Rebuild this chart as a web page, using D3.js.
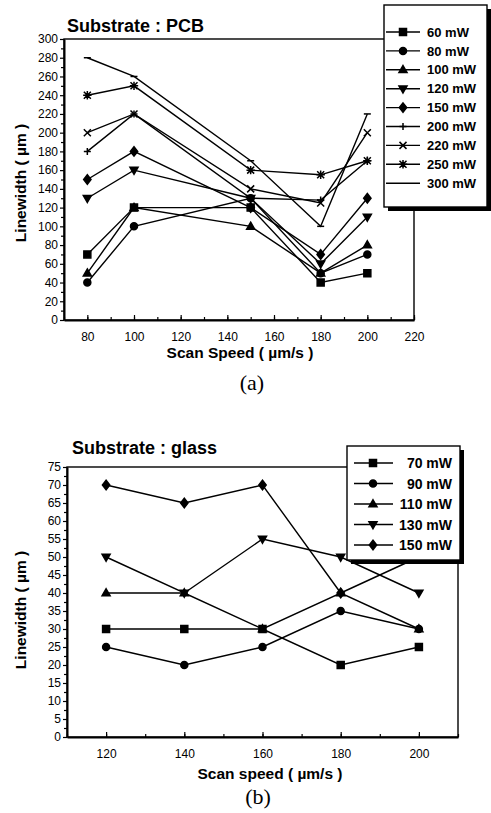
<!DOCTYPE html>
<meta charset="utf-8">
<style>
body { margin: 0; background: #fff; }
text { font-family: 'Liberation Sans', Arial, sans-serif; fill: #000; }
.tick text { font-size: 12px; }
.title { font-size: 18px; font-weight: bold; }
.axis-title { font-size: 15.5px; font-weight: bold; }
.panel { font-family: 'Liberation Serif', serif; font-size: 22px; }
.legend text { font-weight: bold; }
</style>
<svg id="chart" width="491" height="813"></svg>
<script src="https://cdnjs.cloudflare.com/ajax/libs/d3/7.8.5/d3.min.js"></script>
<script>

// (a) substrate PCB
var pcbSpeeds = [80, 100, 150, 180, 200];
var pcbPowers = ["60 mW", "80 mW", "100 mW", "120 mW", "150 mW", "200 mW", "220 mW", "250 mW", "300 mW"];
var pcb60  = [70, 120, 120, 40, 50];
var pcb80  = [40, 100, 130, 50, 70];
var pcb100 = [50, 120, 100, 50, 80];
var pcb120 = [130, 160, 130, 60, 110];
var pcb150 = [150, 180, 120, 70, 130];
var pcb200 = [180, 220, 130, 128, 170];
var pcb220 = [200, 220, 140, 125, 200];
var pcb250 = [240, 250, 160, 155, 170];
var pcb300 = [280, 260, 170, 100, 220];
var pcbXTicks = [80, 100, 120, 140, 160, 180, 200, 220];
var pcbYTicks = d3.range(0, 301, 20);

// (b) substrate glass
var glassSpeeds = [120, 140, 160, 180, 200];
var glassPowers = ["70 mW", "90 mW", "110 mW", "130 mW", "150 mW"];
var glass70  = [30, 30, 30, 20, 25];
var glass90  = [25, 20, 25, 35, 30];
var glass110 = [40, 40, 30, 40, 30];
var glass130 = [50, 40, 55, 50, 40];
var glass150 = [70, 65, 70, 40, 50];
var glassXTicks = [120, 140, 160, 180, 200];
var glassYTicks = d3.range(0, 76, 5);

var svg = d3.select("#chart");

// marker shapes, centred on 0,0
var marker = function(type, r) {
    switch (type) {
        case "square": return "M" + (-r) + "," + (-r) + "h" + 2 * r + "v" + 2 * r + "h" + (-2 * r) + "Z";
        case "circle": return "M" + r + ",0A" + r + "," + r + " 0 1,1 " + (-r) + ",0A" + r + "," + r + " 0 1,1 " + r + ",0Z";
        case "triangle": return "M0," + (-r * 1.2) + "L" + (r * 1.15) + "," + (r * 0.8) + "L" + (-r * 1.15) + "," + (r * 0.8) + "Z";
        case "triangleDown": return "M0," + (r * 1.2) + "L" + (r * 1.15) + "," + (-r * 0.8) + "L" + (-r * 1.15) + "," + (-r * 0.8) + "Z";
        case "diamond": return "M0," + (-r * 1.35) + "L" + (r * 1.05) + ",0L0," + (r * 1.35) + "L" + (-r * 1.05) + ",0Z";
        case "plus": return "M" + (-r) + ",0H" + r + "M0," + (-r) + "V" + r;
        case "times": return "M" + (-r) + "," + (-r) + "L" + r + "," + r + "M" + (-r) + "," + r + "L" + r + "," + (-r);
        case "star": return "M" + (-r) + "," + (-r) + "L" + r + "," + r + "M" + (-r) + "," + r + "L" + r + "," + (-r) + "M0," + (-r * 1.2) + "V" + (r * 1.2) + "M" + (-r * 1.2) + ",0H" + (r * 1.2);
        case "dash": return "M" + (-r) + ",0H" + r;
    }
    return "";
};
var filled = {square: true, circle: true, triangle: true, triangleDown: true, diamond: true};

var drawChart = function(cfg) {
    var x = d3.scaleLinear().domain(cfg.xDomain).range([cfg.left, cfg.right]);
    var y = d3.scaleLinear().domain(cfg.yDomain).range([cfg.bottom, cfg.top]);
    var g = svg.append("g");

    // frame
    g.append("rect")
        .attr("x", cfg.left).attr("y", cfg.top)
        .attr("width", cfg.right - cfg.left).attr("height", cfg.bottom - cfg.top)
        .attr("fill", "none").attr("stroke", "#000").attr("stroke-width", 1.4);

    // minor ticks
    g.append("g")
        .attr("transform", "translate(0," + cfg.bottom + ")")
        .call(d3.axisBottom(x).tickValues(cfg.xMinor).tickSize(-3).tickFormat(""))
        .call(function(a) { a.select(".domain").remove(); });
    g.append("g")
        .attr("transform", "translate(" + cfg.left + ",0)")
        .call(d3.axisLeft(y).tickValues(cfg.yMinor).tickSize(3).tickFormat(""))
        .call(function(a) { a.select(".domain").remove(); });

    var xAxis = g.append("g")
        .attr("transform", "translate(0," + cfg.bottom + ")")
        .call(d3.axisBottom(x).tickValues(cfg.xTicks).tickSize(-5).tickPadding(10).tickSizeOuter(0));
    xAxis.selectAll(".tick text").attr("dy", "0.95em");
    xAxis.select(".domain").attr("stroke-width", 2);

    var yAxis = g.append("g")
        .attr("transform", "translate(" + cfg.left + ",0)")
        .call(d3.axisLeft(y).tickValues(cfg.yTicks).tickSize(4).tickPadding(2).tickSizeOuter(0));
    yAxis.select(".domain").attr("stroke-width", 2);

    g.selectAll(".tick line").attr("stroke-width", 1.2);

    // series
    var line = d3.line().x(function(d) { return x(d[0]); }).y(function(d) { return y(d[1]); });
    cfg.series.forEach(function(s) {
        var pts = cfg.speeds.map(function(v, i) { return [v, s.values[i]]; });
        g.append("path").datum(pts)
            .attr("d", line)
            .attr("fill", "none").attr("stroke", "#000").attr("stroke-width", 1.4);
        g.selectAll(null).data(pts).enter().append("path")
            .attr("transform", function(d) { return "translate(" + x(d[0]) + "," + y(d[1]) + ")"; })
            .attr("d", marker(s.shape, 3.5))
            .attr("fill", filled[s.shape] ? "#000" : "none")
            .attr("stroke", "#000").attr("stroke-width", 1.5);
    });

    // titles
    g.append("text").attr("class", "title")
        .attr("x", cfg.titleX).attr("y", cfg.titleY).text(cfg.title);
    g.append("text").attr("class", "axis-title")
        .attr("x", cfg.xTitleX).attr("y", cfg.xTitleY)
        .attr("text-anchor", "middle").text(cfg.xTitle);
    g.append("text").attr("class", "axis-title")
        .attr("transform", "translate(" + cfg.yTitleX + "," + cfg.yTitleY + ") rotate(-90)")
        .attr("text-anchor", "middle").attr("dy", "0.35em").text(cfg.yTitle);
    g.append("text").attr("class", "panel")
        .attr("x", cfg.panelX).attr("y", cfg.panelY)
        .attr("text-anchor", "middle").text(cfg.panel);

    // legend, drawn on top of the data
    var L = cfg.legend;
    var lg = g.append("g").attr("class", "legend");
    lg.append("rect")
        .attr("x", L.x + 4).attr("y", L.y + 4).attr("width", L.w).attr("height", L.h)
        .attr("fill", "#000");
    lg.append("rect")
        .attr("x", L.x).attr("y", L.y).attr("width", L.w).attr("height", L.h)
        .attr("fill", "#fff").attr("stroke", "#000").attr("stroke-width", 1.4);
    var rows = lg.selectAll(".row").data(cfg.series).enter().append("g")
        .attr("transform", function(d, i) { return "translate(0," + (L.rowY + i * L.rowStep) + ")"; });
    rows.append("line")
        .attr("x1", L.lineX1).attr("x2", L.lineX2)
        .attr("stroke", "#000").attr("stroke-width", 1.4);
    rows.append("path")
        .attr("transform", "translate(" + L.markX + ",0)")
        .attr("d", function(d) { return d.shape === "dash" ? "" : marker(d.shape, 3.5); })
        .attr("fill", function(d) { return filled[d.shape] ? "#000" : "none"; })
        .attr("stroke", "#000").attr("stroke-width", 1.5);
    rows.append("text")
        .attr("x", L.textX).attr("dy", "0.36em")
        .attr("text-anchor", L.anchor)
        .style("font-size", L.fontSize)
        .text(function(d) { return d.name; });
};

var pcbShapes = ["square", "circle", "triangle", "triangleDown", "diamond", "plus", "times", "star", "dash"];
var pcbValues = [pcb60, pcb80, pcb100, pcb120, pcb150, pcb200, pcb220, pcb250, pcb300];

drawChart({
    left: 64, right: 414, top: 39, bottom: 320,
    xDomain: [70, 220], yDomain: [0, 300],
    xTicks: pcbXTicks, xMinor: d3.range(70, 221, 10),
    yTicks: pcbYTicks, yMinor: d3.range(10, 300, 20),
    speeds: pcbSpeeds,
    series: pcbPowers.map(function(p, i) { return {name: p, values: pcbValues[i], shape: pcbShapes[i]}; }),
    title: "Substrate : PCB", titleX: 67, titleY: 32,
    xTitle: "Scan Speed ( \u00b5m/s )", xTitleX: 240, xTitleY: 358,
    yTitle: "Linewidth ( \u00b5m )", yTitleX: 21, yTitleY: 183,
    panel: "(a)", panelX: 252, panelY: 390,
    legend: {x: 384, y: 5, w: 103, h: 202, rowY: 32, rowStep: 18.9,
             lineX1: 386, lineX2: 420, markX: 403, textX: 427, anchor: "start", fontSize: "13px"}
});

var glassShapes = ["square", "circle", "triangle", "triangleDown", "diamond"];
var glassValues = [glass70, glass90, glass110, glass130, glass150];

drawChart({
    left: 67, right: 458, top: 467, bottom: 737,
    xDomain: [110, 210], yDomain: [0, 75],
    xTicks: glassXTicks, xMinor: d3.range(110, 211, 10),
    yTicks: glassYTicks, yMinor: d3.range(2.5, 75, 5),
    speeds: glassSpeeds,
    series: glassPowers.map(function(p, i) { return {name: p, values: glassValues[i], shape: glassShapes[i]}; }),
    title: "Substrate : glass", titleX: 72, titleY: 454,
    xTitle: "Scan speed ( \u00b5m/s )", xTitleX: 270, xTitleY: 779,
    yTitle: "Linewidth ( \u00b5m )", yTitleX: 21, yTitleY: 610,
    panel: "(b)", panelX: 258, panelY: 804,
    legend: {x: 347, y: 446, w: 113, h: 114, rowY: 463, rowStep: 20.5,
             lineX1: 354, lineX2: 393, markX: 373, textX: 452, anchor: "end", fontSize: "14px"}
});

</script>
